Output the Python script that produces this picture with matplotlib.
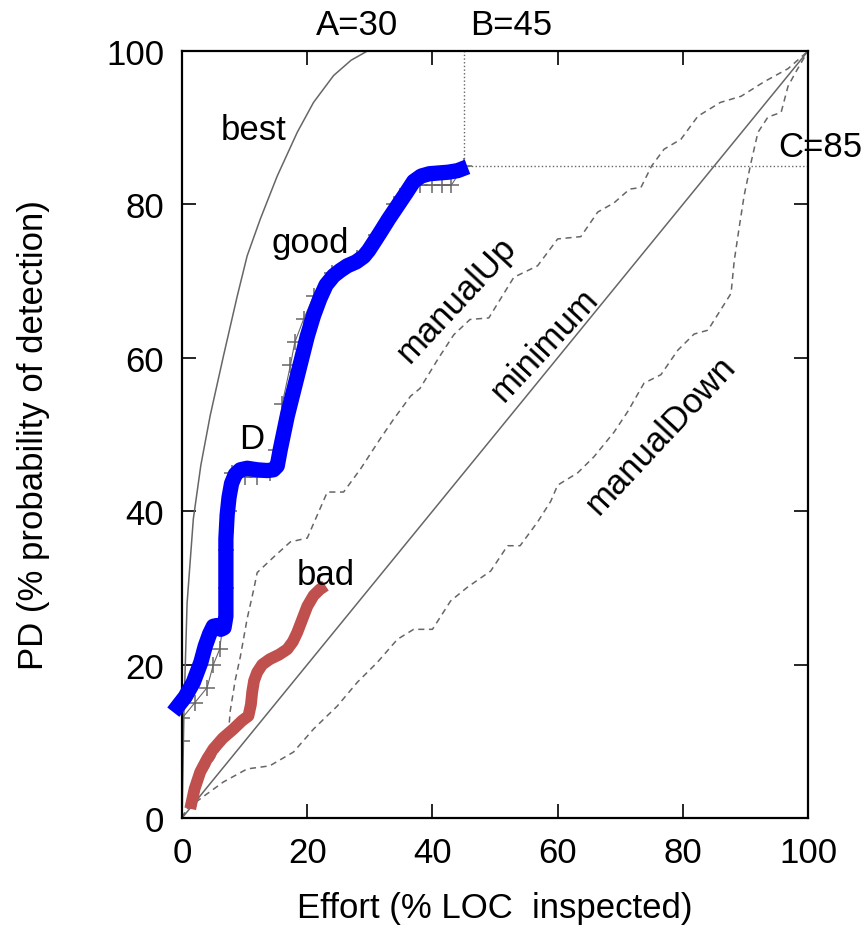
import matplotlib
matplotlib.use("Agg")
import matplotlib.pyplot as plt

plt.rcParams['font.family'] = ['Liberation Sans', 'DejaVu Sans']

# curves (x = % LOC inspected, y = % PD)
best_x = [0, 0.3, 0.8, 1.8, 3, 4.5, 6.6, 8.8, 10.4, 12.5, 15.2, 18.4, 21, 24.2, 27, 29.6]
best_y = [0, 14, 28, 39, 46, 52.5, 60.2, 68, 73.3, 78.1, 83.7, 89.4, 93.3, 96.8, 98.8, 100]

min_x = [0, 100]
min_y = [0, 100]

up_x = [0, 3, 6, 7.5, 7.7, 8.5, 9.3, 10.4, 11.5, 12, 14.6, 17.3, 20, 21.6, 23.2, 25.8, 28.5,
        31.7, 33.8, 36.5, 38, 41, 43.4, 46, 49, 53, 56.8, 60, 63.7, 66.4, 69, 71.5, 73.3,
        75, 77, 79.7, 82.4, 86, 89.3, 93, 96.8, 100]
up_y = [0, 5, 9, 12, 14, 18, 21, 26, 30, 32, 34, 36, 36.5, 39.5, 42.5, 42.5, 45.5,
        49.5, 52, 55, 56, 60, 63, 65, 65.2, 70.5, 72, 75.5, 75.8, 79, 80.2, 82, 82.2,
        85, 87.2, 88.5, 91.5, 93.3, 94.1, 96, 97.7, 100]

down_x = [0, 0.8, 2.9, 6.6, 10.4, 14, 17.8, 21, 24.8, 28, 31.2, 34.4, 37, 40, 42.9, 45.6,
          49.3, 52, 54, 56.8, 58.9, 60, 63.2, 65.8, 69, 71.2, 73.8, 76.5, 79.2, 81.8, 84,
          87.7, 88.2, 89, 89.8, 90.9, 92, 93.6, 95.7, 96.8, 98, 100]
down_y = [0, 1.2, 2.5, 4.7, 6.4, 6.8, 8.6, 11.6, 14.6, 17.7, 20.3, 23.3, 24.6, 24.6, 28.3, 30.1,
          32.2, 35.5, 35.5, 38.6, 41.3, 43.4, 45, 47.1, 50.3, 53, 56.7, 57.8, 61, 63.1, 63.6,
          68.4, 72.6, 77, 81.2, 85.5, 89.4, 91.4, 92, 95.4, 97.2, 100]

d_x = [0, 0, 2, 4, 5, 6, 6.5, 7, 7, 7.5, 8, 10, 12, 14, 15, 16, 17.3, 18, 19.4, 21, 24,
       28, 31, 33.8, 36, 38, 40, 41.5, 43, 45]
d_y = [10, 13, 15, 17, 20, 22, 25, 30, 35, 40, 45, 44.5, 44.5, 45, 48, 54, 59, 62, 65, 68,
       71, 73, 76, 80, 82, 82.5, 82.5, 82.5, 82.5, 85]

good_x = [-1.4, 0.5, 1.8, 3.0, 3.7, 4.4, 5.0, 5.6, 6.2, 6.7, 7.0, 7.0, 7.0, 7.2, 7.5, 7.9,
          8.5, 9.3, 10.4, 12.0, 13.6, 14.6, 15.2, 15.7, 16.8, 18.4, 20, 21, 22, 23, 24.2,
          25.3, 26.4, 27.8, 29.0, 29.8, 30.6, 31.7, 33, 34.4, 35.8, 37, 38.2, 39.5, 41,
          42.5, 44, 45.6]
good_y = [13.8, 15.8, 17.7, 20.3, 22.4, 24.0, 25, 25.1, 24.6, 24.8, 26.3, 30.8, 36.4, 39.5,
          41.8, 43.6, 44.8, 45.4, 45.6, 45.4, 45.3, 45.4, 45.9, 48.1, 52.4, 57.6, 62.8,
          65.5, 67.7, 69.5, 70.7, 71.4, 72, 72.5, 73.2, 74.0, 75.0, 76.4, 78.1, 79.8, 81.5,
          83, 83.7, 84.0, 84.1, 84.2, 84.4, 84.9]

bad_x = [1.3, 2.0, 2.9, 4.0, 5, 6.5, 8.2, 9.6, 10.6, 11.0, 11.2, 11.5, 12, 12.8, 14, 15.5,
         16.8, 17.7, 18.4, 19.2, 20, 21, 22, 22.9]
bad_y = [1.2, 3.8, 6, 7.7, 9, 10.4, 11.6, 12.7, 13.3, 14.8, 16.4, 17.9, 19, 20.0, 20.7, 21.3,
         22, 23.0, 24.2, 25.9, 27.6, 29.0, 29.8, 30.3]

B = 45
C = 85

fig = plt.figure(figsize=(8.67, 9.29), dpi=100)
ax = fig.add_axes([0.21, 0.1184, 0.722, 0.8256])

gray = '#666666'
ax.plot(best_x, best_y, color=gray, lw=1.1)
ax.plot(min_x, min_y, color=gray, lw=1.1)
ax.plot(up_x, up_y, color=gray, lw=1.1, dashes=(4, 3))
ax.plot(down_x, down_y, color=gray, lw=1.1, dashes=(4, 3))
ax.plot([B, B], [C, 100], color=gray, lw=1, ls=':')
ax.plot([B, 100], [C, C], color=gray, lw=1, ls=':')
ax.plot(d_x, d_y, color=gray, lw=0.8, marker='+', ms=12, mew=1.1)

ax.plot(bad_x, bad_y, color='#c0504d', lw=8.5, solid_capstyle='butt', solid_joinstyle='round')
ax.plot(good_x, good_y, color='#0000ff', lw=11, solid_capstyle='butt',
        solid_joinstyle='round', clip_on=False, zorder=5)

fs = 25
ax.text(11.5, 89.8, 'best', fontsize=fs, ha='center', va='center')
ax.text(20.5, 75.1, 'good', fontsize=fs, ha='center', va='center')
ax.text(11.2, 49.5, 'D', fontsize=fs, ha='center', va='center')
ax.text(22.9, 31.8, 'bad', fontsize=fs, ha='center', va='center')
ax.text(43.8, 67.7, 'manualUp', fontsize=fs, ha='center', va='center', rotation=47)
ax.text(58, 61.8, 'minimum', fontsize=fs, ha='center', va='center', rotation=47)
ax.text(76.5, 50, 'manualDown', fontsize=fs, ha='center', va='center', rotation=47)
ax.text(28, 101.3, 'A=30', fontsize=fs, ha='center', va='bottom')
ax.text(52.6, 101.3, 'B=45', fontsize=fs, ha='center', va='bottom')
ax.text(95.2, 87.5, 'C=85', fontsize=fs, ha='left', va='center')

ax.set_xlim(0, 100)
ax.set_ylim(0, 100)
ax.set_xticks(range(0, 101, 20))
ax.set_yticks(range(0, 101, 20))
ax.tick_params(direction='in', length=10, width=1.2, top=True, right=True,
               labelsize=fs, pad=13)
for s in ax.spines.values():
    s.set_linewidth(1.6)
ax.set_xlabel('Effort (% LOC  inspected)', fontsize=fs, labelpad=16)
ax.set_ylabel('PD (% probability of detection)', fontsize=fs, labelpad=40)

fig.savefig('out.png', dpi=100)
